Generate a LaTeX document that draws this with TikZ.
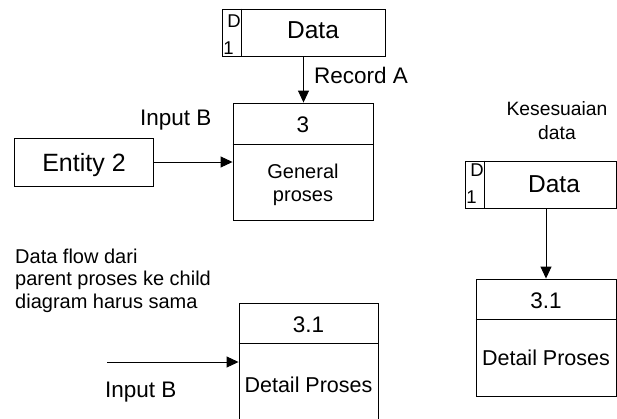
\documentclass[tikz,border=0pt]{standalone}
\usepackage{fontspec}
\setmainfont{Liberation Sans}
\usetikzlibrary{arrows.meta,calc}
\begin{document}
\begin{tikzpicture}[x=1pt,y=-1pt,
  box/.style={draw,line width=0.9pt,inner sep=0pt,rectangle},
  divline/.style={line width=0.9pt},
  flow/.style={draw,line width=0.9pt,-{Triangle[length=12pt,width=11pt]}},
  lbl/.style={inner sep=0pt,anchor=base},
  fbig/.style={font=\fontsize{24.5}{28}\selectfont},
  fmid/.style={font=\fontsize{22.5}{26}\selectfont},
  fsm/.style={font=\fontsize{20}{22.5}\selectfont},
  fid/.style={font=\fontsize{18.5}{20}\selectfont},
]
\useasboundingbox (0,0) rectangle (617,418);

% ---------- top data store ----------
\node[box,minimum width=163pt,minimum height=47pt] (s1) at (303.5,32.5) {};
\draw[divline] ($(s1.north west)+(20,0)$) -- ($(s1.south west)+(20,0)$);
\node[lbl,fid] (s1d) at (234,27) {D};
\node[lbl,fid] (s1n) at (228.5,54) {1};
\node[lbl,fbig] (s1t) at (313,38) {Data};

% ---------- process 3 ----------
\node[box,minimum width=140pt,minimum height=117pt] (p3) at (303,161.5) {};
\draw[divline] ($(p3.north west)+(0,42)$) -- ($(p3.north east)+(0,42)$);
\node[lbl,fmid] (p3n) at (303,132) {3};
\node[lbl,fsm] (p3a) at (303,178) {General};
\node[lbl,fsm] (p3b) at (303,201) {proses};

\draw[flow] (s1.south) -- (s1.south |- p3.north);
\node[lbl,fmid,anchor=base west] (recA) at (314,83) {Record A};

% ---------- entity 2 ----------
\node[box,minimum width=139pt,minimum height=48pt] (e2) at (83.5,162) {};
\node[lbl,font=\fontsize{25}{29}\selectfont] (e2t) at (84,171) {Entity 2};
\draw[flow] (e2.east) -- (e2.east -| p3.west);
\node[lbl,fmid,anchor=base west] (inB1) at (140,125) {Input B};

% ---------- note ----------
\node[lbl,fsm,anchor=base west] (n1) at (15,263) {Data flow dari};
\node[lbl,fsm,anchor=base west] (n2) at (15,285.5) {parent proses ke child};
\node[lbl,fsm,anchor=base west] (n3) at (15,308) {diagram harus sama};

% ---------- bottom middle process 3.1 ----------
\node[box,minimum width=139pt,minimum height=122pt] (pb) at (308.5,364) {};
\draw[divline] ($(pb.north west)+(0,41)$) -- ($(pb.north east)+(0,41)$);
\node[lbl,fmid] (pbn) at (308.5,332) {3.1};
\node[lbl,font=\fontsize{21.5}{25}\selectfont] (pbt) at (308.5,392) {Detail Proses};
\coordinate (inBstart) at (107,362);
\draw[flow] (inBstart) -- (inBstart -| pb.west);
\node[lbl,fmid,anchor=base west] (inB2) at (105,397) {Input B};

% ---------- right data store ----------
\node[box,minimum width=151pt,minimum height=47pt] (s2) at (540.5,184.5) {};
\draw[divline] ($(s2.north west)+(20,0)$) -- ($(s2.south west)+(20,0)$);
\node[lbl,fid] (s2d) at (477,176.5) {D};
\node[lbl,fid] (s2n) at (471.5,203) {1};
\node[lbl,fbig] (s2t) at (554,192) {Data};
\node[lbl,font=\fontsize{19.3}{23}\selectfont] (k1) at (557,115) {Kesesuaian};
\node[lbl,font=\fontsize{19.3}{23}\selectfont] (k2) at (557,139) {data};

% ---------- right process 3.1 ----------
\node[box,minimum width=140pt,minimum height=117pt] (pr) at (546,337.5) {};
\draw[divline] ($(pr.north west)+(0,41)$) -- ($(pr.north east)+(0,41)$);
\node[lbl,fmid] (prn) at (546,308) {3.1};
\node[lbl,font=\fontsize{21.5}{25}\selectfont] (prt) at (546,365) {Detail Proses};
\draw[flow] (s2.south -| pr.north) -- (pr.north);
\end{tikzpicture}
\end{document}
